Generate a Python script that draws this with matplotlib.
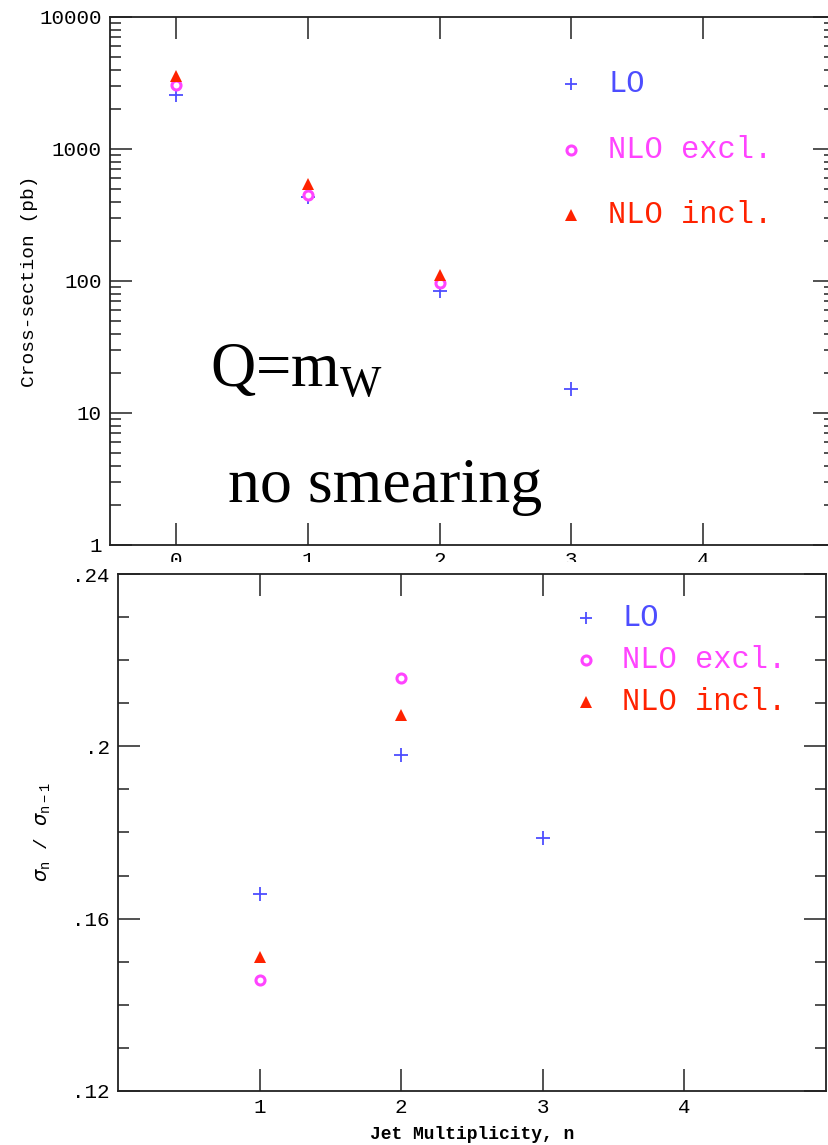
import matplotlib
matplotlib.use("Agg")
import matplotlib.pyplot as plt
from matplotlib.patches import Rectangle
from matplotlib.ticker import LogLocator, MultipleLocator, FixedLocator, NullFormatter

# ---------------- data ----------------
n_top = [0, 1, 2, 3]
xsec_lo = [2570, 433, 84, 15.2]
n_nlo_top = [0, 1, 2]
xsec_nlo_excl = [3050, 448, 96.6]
xsec_nlo_incl = [3570, 543, 111]

n_bot = [1, 2, 3]
ratio_lo = [0.1658, 0.1979, 0.1788]
n_nlo_bot = [1, 2]
ratio_nlo_excl = [0.1458, 0.2158]
ratio_nlo_incl = [0.1512, 0.2072]

series_names = ["LO", "NLO excl.", "NLO incl."]
top_xticks = [0, 1, 2, 3, 4]
top_yticks = [1, 10, 100, 1000, 10000]
top_yticklabels = ["1", "10", "100", "1000", "10000"]
bot_xticks = [1, 2, 3, 4]
bot_yticks = [0.12, 0.16, 0.20, 0.24]
bot_yticklabels = [".12", ".16", ".2", ".24"]

# ---------------- style ----------------
C_LO = "#4d4dff"
C_EX = "#ff44ff"
C_IN = "#ff2200"
MONO = "Liberation Mono"

sty_lo = dict(marker="+", ms=10, mew=1.3, color=C_LO, ls="none")
sty_ex = dict(marker="o", ms=6.5, mew=2.2, mfc="white", mec=C_EX, color=C_EX, ls="none")
sty_in = dict(marker="^", ms=8, mew=0, color=C_IN, ls="none")

W, H = 829, 1145
fig = plt.figure(figsize=(W / 100, H / 100), dpi=100)

def fx(px):
    return px / W

def fy(py):
    return 1 - py / H

def style_axes(ax):
    for s in ax.spines.values():
        s.set_linewidth(1.3)
        s.set_color("#222222")
    ax.tick_params(which="both", direction="in", top=True, right=True,
                   width=1.1, color="#222222")
    ax.tick_params(which="major", length=16)
    ax.tick_params(which="minor", length=8)

# ---------- top panel ----------
axT = fig.add_axes([fx(110), fy(545), fx(835) - fx(110), fy(17) - fy(545)])
axT.set_yscale("log")
axT.set_xlim(-0.5, 5.0)
axT.set_ylim(1, 10000)
axT.plot(n_top, xsec_lo, **sty_lo)
axT.plot(n_nlo_top, xsec_nlo_excl, **sty_ex)
axT.plot(n_nlo_top, xsec_nlo_incl, **sty_in)
axT.xaxis.set_major_locator(FixedLocator(top_xticks))
axT.set_xticklabels([str(t) for t in top_xticks], fontsize=15, fontfamily=MONO)
axT.yaxis.set_major_locator(FixedLocator(top_yticks))
axT.set_yticklabels(top_yticklabels, fontsize=15, fontfamily=MONO)
axT.yaxis.set_minor_locator(LogLocator(base=10, subs=range(2, 10), numticks=20))
axT.yaxis.set_minor_formatter(NullFormatter())
style_axes(axT)
axT.tick_params(axis="y", which="major", pad=6)
axT.tick_params(axis="x", which="major", pad=4)
axT.set_ylabel("Cross-section (pb)", fontsize=14, fontfamily=MONO)
axT.yaxis.set_label_coords(-0.099, 0.5)

# legend (top)
leg_mx, leg_tx = 0.636, 0.687
leg_ys = [0.873, 0.748, 0.625]
for sty, name, c, yy in zip([sty_lo, sty_ex, sty_in], series_names,
                            [C_LO, C_EX, C_IN], leg_ys):
    s2 = dict(sty)
    if sty is sty_lo:
        s2["ms"] = 9
    axT.plot([leg_mx], [yy], transform=axT.transAxes, **s2)
    axT.text(leg_tx, yy, name, transform=axT.transAxes, color=c,
             fontsize=22, fontfamily=MONO, va="center", ha="left")

axT.text(0.138, 0.299, r"Q=m$_\mathregular{W}$", transform=axT.transAxes,
         fontsize=45, fontfamily="Liberation Serif", va="baseline", ha="left")
axT.text(0.163, 0.081, "no smearing", transform=axT.transAxes,
         fontsize=46, fontfamily="Liberation Serif", va="baseline", ha="left")

# ---------- bottom panel ----------
axB = fig.add_axes([fx(118), fy(1091), fx(826) - fx(118), fy(574) - fy(1091)])
axB.set_xlim(0, 5)
axB.set_ylim(0.12, 0.24)
axB.plot(n_bot, ratio_lo, **sty_lo)
axB.plot(n_nlo_bot, ratio_nlo_excl, **sty_ex)
axB.plot(n_nlo_bot, ratio_nlo_incl, **sty_in)
axB.xaxis.set_major_locator(FixedLocator(bot_xticks))
axB.set_xticklabels([str(t) for t in bot_xticks], fontsize=15, fontfamily=MONO)
axB.yaxis.set_major_locator(FixedLocator(bot_yticks))
axB.set_yticklabels(bot_yticklabels, fontsize=15, fontfamily=MONO)
axB.yaxis.set_minor_locator(MultipleLocator(0.01))
axB.yaxis.set_minor_formatter(NullFormatter())
style_axes(axB)
axB.tick_params(axis="y", which="major", pad=6)
axB.tick_params(axis="x", which="major", pad=5)
axB.set_ylabel(r"$\sigma_\mathregular{n}$ / $\sigma_\mathregular{n-1}$",
               fontsize=14, fontfamily=MONO)
axB.yaxis.set_label_coords(-0.092, 0.5)
axB.set_xlabel("Jet Multiplicity, n", fontsize=13, fontfamily=MONO,
               fontweight="bold")
axB.xaxis.set_label_coords(0.5, -0.068)

leg_mx2, leg_tx2 = 0.661, 0.712
leg_ys2 = [0.915, 0.834, 0.752]
for sty, name, c, yy in zip([sty_lo, sty_ex, sty_in], series_names,
                            [C_LO, C_EX, C_IN], leg_ys2):
    s2 = dict(sty)
    if sty is sty_lo:
        s2["ms"] = 9
    axB.plot([leg_mx2], [yy], transform=axB.transAxes, **s2)
    axB.text(leg_tx2, yy, name, transform=axB.transAxes, color=c,
             fontsize=22, fontfamily=MONO, va="center", ha="left")

# white strip hiding the lower half of the top panel's x tick labels
fig.patches.append(Rectangle((fx(114), fy(573)), fx(829) - fx(114), fy(562) - fy(573),
                             transform=fig.transFigure, facecolor="white",
                             edgecolor="none", zorder=10))

fig.savefig("out.png", dpi=100)
